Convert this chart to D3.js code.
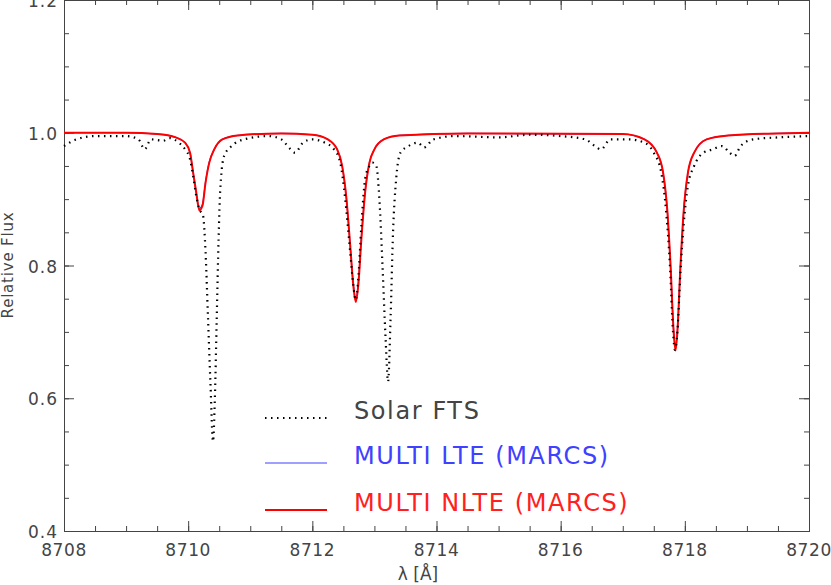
<!DOCTYPE html>
<html><head><meta charset="utf-8">
<script src="https://cdn.jsdelivr.net/npm/d3@7"></script>
<style>body{margin:0;background:#fff}text{font-family:"DejaVu Sans",sans-serif;}</style>
</head><body><svg id="c" width="831" height="585"></svg>
<script>
const xTicks=[8708,8710,8712,8714,8716,8718,8720];
const yTicks=[0.4,0.6,0.8,1.0,1.2];
const nlteWl=[8708.0,8709.0,8709.5,8709.8,8709.95,8710.03,8710.08,8710.13,8710.18,8710.23,8710.28,8710.34,8710.42,8710.55,8710.8,8711.5,8712.0,8712.25,8712.4,8712.48,8712.55,8712.61,8712.66,8712.70,8712.74,8712.79,8712.85,8712.92,8713.0,8713.15,8713.4,8714.5,8717.0,8717.35,8717.55,8717.65,8717.72,8717.77,8717.82,8717.85,8717.88,8717.93,8717.98,8718.05,8718.15,8718.35,8718.7,8719.5,8720];
const nlteFlux=[1.0,1.0,0.998,0.993,0.985,0.97,0.94,0.91,0.883,0.89,0.925,0.955,0.975,0.99,0.996,0.999,0.997,0.99,0.975,0.95,0.90,0.83,0.77,0.745,0.77,0.84,0.91,0.955,0.975,0.99,0.996,0.999,0.998,0.99,0.97,0.94,0.88,0.80,0.70,0.672,0.70,0.80,0.88,0.94,0.97,0.99,0.996,0.999,1.0];
const lteFlux=[1.0,1.0,0.998,0.993,0.985,0.97,0.94,0.91,0.886,0.892,0.926,0.956,0.975,0.99,0.996,0.999,0.997,0.99,0.975,0.95,0.90,0.83,0.772,0.75,0.774,0.842,0.91,0.955,0.975,0.99,0.996,0.999,0.998,0.99,0.97,0.94,0.88,0.80,0.702,0.676,0.702,0.80,0.88,0.94,0.97,0.99,0.996,0.999,1.0];
const ftsWl=[8708.0,8708.2,8708.5,8709.0,8709.2,8709.3,8709.4,8709.6,8709.7,8709.85,8709.95,8710.03,8710.08,8710.13,8710.18,8710.24,8710.28,8710.32,8710.36,8710.40,8710.43,8710.46,8710.49,8710.52,8710.58,8710.7,8710.9,8711.3,8711.5,8711.65,8711.72,8711.85,8712.0,8712.2,8712.35,8712.45,8712.53,8712.61,8712.66,8712.70,8712.74,8712.79,8712.85,8712.92,8712.97,8713.03,8713.08,8713.13,8713.18,8713.22,8713.26,8713.3,8713.35,8713.42,8713.55,8713.7,8713.8,8713.95,8714.3,8715,8715.5,8716.0,8716.4,8716.55,8716.65,8716.8,8717.1,8717.35,8717.5,8717.62,8717.70,8717.76,8717.81,8717.84,8717.88,8717.93,8717.98,8718.05,8718.15,8718.3,8718.45,8718.6,8718.72,8718.8,8718.9,8719.1,8719.5,8720];
const ftsFlux=[0.98,0.99,0.995,0.995,0.99,0.975,0.99,0.988,0.992,0.985,0.975,0.96,0.935,0.905,0.885,0.875,0.82,0.72,0.62,0.535,0.60,0.72,0.84,0.92,0.965,0.98,0.99,0.995,0.99,0.975,0.97,0.985,0.99,0.985,0.975,0.955,0.90,0.82,0.77,0.748,0.78,0.86,0.93,0.95,0.955,0.95,0.90,0.80,0.69,0.625,0.72,0.85,0.93,0.97,0.98,0.985,0.978,0.99,0.995,0.993,0.997,0.995,0.99,0.98,0.975,0.99,0.99,0.985,0.97,0.94,0.88,0.80,0.70,0.673,0.70,0.79,0.86,0.92,0.95,0.97,0.975,0.98,0.97,0.965,0.98,0.99,0.993,0.995];
const legendLabels=["Solar FTS","MULTI LTE (MARCS)","MULTI NLTE (MARCS)"];

const svg=d3.select("#c");
const L=64,R=809,T=0,B=531;
const x=d3.scaleLinear().domain([8708,8720]).range([L,R]);
const y=d3.scaleLinear().domain([0.4,1.2]).range([B,T]);
const g=svg.append("g");
const ax="#444";
function mk(axisFn,scale,vals,len,tr){
  g.append("g").attr("transform",tr).call(axisFn(scale).tickValues(vals).tickSize(len).tickFormat(""))
   .call(s=>{s.select(".domain").attr("stroke",ax);s.selectAll("line").attr("stroke",ax);});
}
const xMinor=d3.range(8708,8720.01,0.5), yMinor=d3.range(0.4,1.201,0.05);
mk(d3.axisTop,x,xTicks,10,`translate(0,${B})`);
mk(d3.axisTop,x,xMinor,5,`translate(0,${B})`);
mk(d3.axisBottom,x,xTicks,10,`translate(0,${T})`);
mk(d3.axisBottom,x,xMinor,5,`translate(0,${T})`);
mk(d3.axisRight,y,yTicks,10,`translate(${L},0)`);
mk(d3.axisRight,y,yMinor,5,`translate(${L},0)`);
mk(d3.axisLeft,y,yTicks,10,`translate(${R},0)`);
mk(d3.axisLeft,y,yMinor,5,`translate(${R},0)`);
g.selectAll(".xl").data(xTicks).enter().append("text").attr("x",d=>x(d)).attr("y",B+25)
 .attr("text-anchor","middle").attr("font-size",17).attr("letter-spacing",0.6).attr("fill",ax).text(d=>d);
g.selectAll(".yl").data(yTicks).enter().append("text").attr("x",L-6).attr("y",d=>y(d)+7)
 .attr("text-anchor","end").attr("font-size",17).attr("letter-spacing",1).attr("fill",ax).text(d=>d.toFixed(1));
svg.append("text").attr("transform","translate(13,265) rotate(-90)").attr("text-anchor","middle")
 .attr("font-size",15).attr("letter-spacing",0.8).attr("fill",ax).text("Relative Flux");
svg.append("text").attr("x",418).attr("y",580).attr("text-anchor","middle").attr("font-size",17).attr("fill",ax).text("λ  [Å]");

const line=(wl)=>d3.line().curve(d3.curveMonotoneX).x((d,i)=>x(wl[i])).y(d=>y(d));
g.append("path").attr("d",line(nlteWl)(lteFlux)).attr("fill","none").attr("stroke","#4040ff").attr("stroke-width",1.2);
g.append("path").attr("d",line(nlteWl)(nlteFlux)).attr("fill","none").attr("stroke","#ff0000").attr("stroke-width",2);
g.append("path").attr("d",line(ftsWl)(ftsFlux)).attr("fill","none").attr("stroke","#000").attr("stroke-width",2.2).attr("stroke-dasharray","1.5 4.5").attr("stroke-linecap","butt");

const lg=[{c:"#000",w:2.2,d:"1.5 4.5",y:418,ty:410,t:"#444"},{c:"#4040ff",w:1.2,d:null,y:463,ty:455,t:"#4040ff"},{c:"#ff0000",w:2,d:null,y:510,ty:502,t:"#ff2020"}];
lg.forEach((o,i)=>{
  g.append("line").attr("x1",265).attr("x2",327).attr("y1",o.y).attr("y2",o.y).attr("stroke",o.c).attr("stroke-width",o.w).attr("stroke-dasharray",o.d);
  g.append("text").attr("x",354).attr("y",o.ty).attr("dy",9).attr("font-size",24).attr("letter-spacing",1.6).attr("fill",o.t).text(legendLabels[i]);
});
</script></body></html>
